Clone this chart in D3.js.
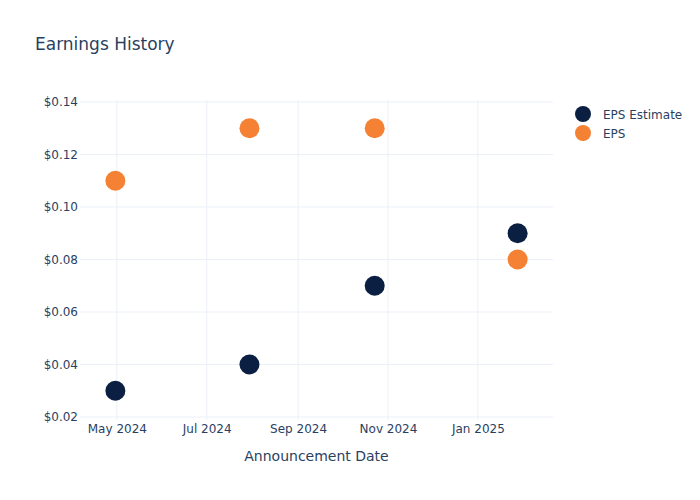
<!DOCTYPE html>
<html><head><meta charset="utf-8">
<script src="https://cdn.jsdelivr.net/npm/d3@7"></script>
<style>body{margin:0;background:#fff;} text{font-family:"DejaVu Sans",sans-serif;}</style>
</head><body>
<svg id="c" width="700" height="500"></svg>
<script>
const dates = ["2024-04-30","2024-07-30","2024-10-23","2025-01-28"];
const epsEstimate = [0.03, 0.04, 0.07, 0.09];
const eps = [0.11, 0.13, 0.13, 0.08];
const yTicks = [0.02, 0.04, 0.06, 0.08, 0.10, 0.12, 0.14];
const xTicks = ["2024-05-01","2024-07-01","2024-09-01","2024-11-01","2025-01-01"];
const seriesNames = ["EPS Estimate", "EPS"];
const colors = ["#0b1f42", "#f58134"];

const parse = d3.utcParse("%Y-%m-%d");
const svg = d3.select("#c");
const m = {l:80, r:147, t:100, b:80};
const W = 700, H = 500;
const x = d3.scaleUtc().domain([parse("2024-04-06"), parse("2025-02-21")]).range([m.l, W - m.r]);
const y = d3.scaleLinear().domain([0.01886, 0.14076]).range([H - m.b, m.t]);
const txt = "#2a3f5f", grid = "#ebf0f8";

// grid
svg.append("g").selectAll("line").data(yTicks).join("line")
  .attr("x1", m.l).attr("x2", W - m.r).attr("y1", d => y(d)).attr("y2", d => y(d))
  .attr("stroke", grid).attr("stroke-width", 1);
svg.append("g").selectAll("line").data(xTicks).join("line")
  .attr("x1", d => x(parse(d))).attr("x2", d => x(parse(d))).attr("y1", m.t).attr("y2", H - m.b)
  .attr("stroke", grid).attr("stroke-width", 1);

// axes
const yAxis = d3.axisLeft(y).tickValues(yTicks).tickSize(0).tickPadding(2).tickFormat(d => "$" + d3.format(".2f")(d));
const gy = svg.append("g").attr("transform", `translate(${m.l},0)`).call(yAxis);
gy.select(".domain").remove();
gy.selectAll("text").attr("fill", txt).style("font-size", "12px");

const xAxis = d3.axisBottom(x).tickValues(xTicks.map(parse)).tickSize(0).tickPadding(4).tickFormat(d3.utcFormat("%b %Y"));
const gx = svg.append("g").attr("transform", `translate(0,${H - m.b})`).call(xAxis);
gx.select(".domain").remove();
gx.selectAll("text").attr("fill", txt).style("font-size", "12px");

// points
[epsEstimate, eps].forEach((vals, i) => {
  svg.append("g").selectAll("circle").data(vals).join("circle")
    .attr("cx", (d, j) => x(parse(dates[j]))).attr("cy", d => y(d)).attr("r", 10)
    .attr("fill", colors[i]);
});

// titles
svg.append("text").attr("x", 35).attr("y", 50).attr("fill", txt).style("font-size", "17px").text("Earnings History");
svg.append("text").attr("x", (m.l + W - m.r) / 2).attr("y", 461).attr("text-anchor", "middle")
  .attr("fill", txt).style("font-size", "14px").text("Announcement Date");

// legend
const lg = svg.append("g").selectAll("g").data(seriesNames).join("g")
  .attr("transform", (d, i) => `translate(583,${114 + i * 19})`);
lg.append("circle").attr("r", 8).attr("fill", (d, i) => colors[i]);
lg.append("text").attr("x", 20).attr("y", 4.5).attr("fill", txt).style("font-size", "12px").text(d => d);
</script>
</body></html>
